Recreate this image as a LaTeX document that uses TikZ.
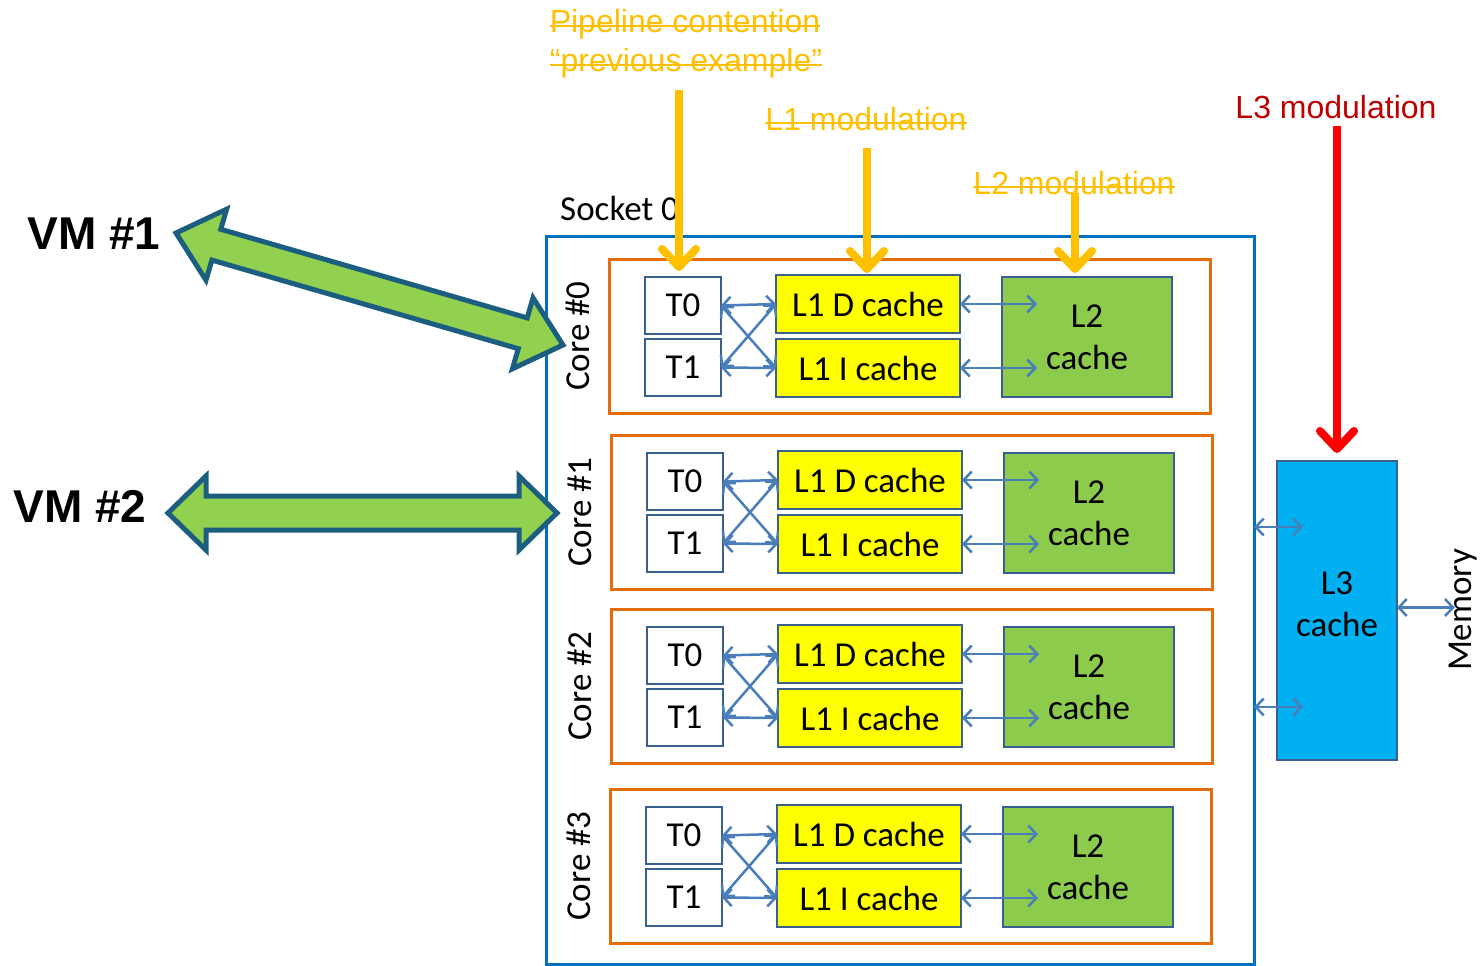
\documentclass[tikz,border=0pt]{standalone}
\usepackage{fontspec}
\newfontfamily\calfont{Carlito}
\newfontfamily\arifont{Liberation Sans}
\usetikzlibrary{arrows.meta,calc}
\definecolor{socketblue}{HTML}{0070C0}
\definecolor{coreorange}{HTML}{E46C0A}
\definecolor{boxblue}{HTML}{3A5F91}
\definecolor{linkblue}{HTML}{4A7EBB}
\definecolor{l1yellow}{HTML}{FFFF00}
\definecolor{l2green}{HTML}{8DCB4C}
\definecolor{l3blue}{HTML}{00B0F0}
\definecolor{modyellow}{HTML}{FFC000}
\definecolor{modred}{HTML}{FF0000}
\definecolor{textred}{HTML}{C00000}
\definecolor{vmfill}{HTML}{92D050}
\definecolor{vmedge}{HTML}{1B5E80}
\begin{document}
\begin{tikzpicture}[x=1pt,y=-1pt,
  cal/.style={font=\calfont\fontsize{35}{42}\selectfont},
  cell/.style={cal,draw=boxblue,line width=2.5pt,inner sep=0pt,outer sep=0pt,anchor=north west,align=center},
  tcell/.style={cell,fill=white,minimum width=76pt,minimum height=57pt},
  l1cell/.style={cell,fill=l1yellow,minimum width=184pt,minimum height=58pt},
  l2cell/.style={cell,fill=l2green,minimum width=170pt,minimum height=120pt},
  corebox/.style={draw=coreorange,line width=3pt,anchor=north west,inner sep=0pt,outer sep=0pt,minimum width=601pt,minimum height=154pt},
  link/.style={linkblue,line width=2.5pt,>={Straight Barb[length=8pt,width=17pt]},<->},
  modarrow/.style={line width=8pt,arrows={-Straight Barb[length=18pt,width=34pt,round]}},
  modlabel/.style={font=\arifont\fontsize{32}{38}\selectfont,inner sep=0pt,anchor=base},
  vmlabel/.style={font=\arifont\bfseries\fontsize{46}{50}\selectfont,inner sep=0pt},
  bigarrow/.style={fill=vmfill,draw=vmedge,line width=5pt,line join=miter},
]
\useasboundingbox (0,0) rectangle (1481,966);

% socket frame
\node[draw=socketblue,line width=3pt,anchor=north west,inner sep=0pt,outer sep=0pt,
      minimum width=708pt,minimum height=728pt] (socket) at (546,236) {};
\node[cal,anchor=base west,inner sep=0pt] (socklbl) at (560,220) {Socket 0};

% four cores, each with two threads, L1 D/I caches and a private L2
\foreach \i/\dx/\dy in {0/0/0,1/2/176,2/2/350,3/1/530}{
  \begin{scope}[shift={(\dx,\dy)}]
    \node[corebox] (core\i) at (609,259) {};
    \node[tcell] (ta\i) at (645,277) {T0};
    \node[tcell] (tb\i) at (645,339) {T1};
    \node[l1cell] (ld\i) at (776,275) {L1 D cache};
    \node[l1cell] (li\i) at (776,339) {L1 I cache};
    \node[l2cell] (lt\i) at (1002,277) {L2\\cache};
    \node[cal,rotate=90,inner sep=0pt] (cl\i) at (578,336) {Core \#\i};
    \draw[link] (ta\i.east) -- (ld\i.west);
    \draw[link] (tb\i.east) -- (li\i.west);
    \draw[link] (ta\i.east) -- (li\i.west);
    \draw[link] (tb\i.east) -- (ld\i.west);
    \draw[link] (ld\i.east) -- ($(lt\i.west |- ld\i.east)+(35,0)$);
    \draw[link] (li\i.east) -- ($(lt\i.west |- li\i.east)+(35,0)$);
  \end{scope}
}

% shared L3 and memory
\node[cell,fill=l3blue,minimum width=120pt,minimum height=299pt] (l3) at (1277,461) {};
\node[cal,align=center,inner sep=0pt] (l3txt) at ([yshift=6pt]l3.center) {L3\\cache};
\path (l3.north west) ++(26,66) coordinate (l3inA) ++(0,180) coordinate (l3inB);
\draw[link] (socket.east |- l3inA) -- (l3inA);
\draw[link] (socket.east |- l3inB) -- (l3inB);
\node[cal,rotate=90,inner sep=0pt] (mem) at (1463,610) {Memory};
\draw[link] ([yshift=3pt]l3.east) -- ([yshift=3pt,xshift=6pt]l3.east -| mem.north);

% modulation labels (struck through where no longer applicable)
\node[modlabel,text=modyellow] (pipeA) at (685,33) {Pipeline contention};
\node[modlabel,text=modyellow] (pipeB) at (686,72) {“previous example”};
\node[modlabel,text=modyellow] (modA) at (866,130) {L1 modulation};
\node[modlabel,text=modyellow] (modB) at (1074,194) {L2 modulation};
\node[modlabel,text=textred] (modC) at (1336,118) {L3 modulation};
\foreach \n in {pipeA,pipeB,modA,modB}
  \draw[modyellow,line width=2pt] ([yshift=7pt]\n.base west) -- ([yshift=7pt]\n.base east);

% modulation arrows
\coordinate (pipeTail) at (679,90);
\coordinate (modATail) at (867,148);
\coordinate (modBTail) at (1075,193);
\coordinate (modCTail) at (1337,126);
\draw[modarrow,modyellow] (pipeTail) -- ([yshift=6pt]pipeTail |- ta0.north);
\draw[modarrow,modyellow] (modATail) -- ([yshift=2pt]modATail |- ld0.north);
\draw[modarrow,modyellow] (modBTail) -- ([yshift=4pt]modBTail |- lt0.north);
\draw[modarrow,modred] (modCTail) -- ([yshift=8pt]modCTail |- l3.north);

% virtual machines
\node[vmlabel] (vm1) at (94,234) {VM \#1};
\node[vmlabel] (vm2) at (80,506) {VM \#2};
\draw[bigarrow] (176,233) -- (226.6,209.2) -- (220.8,229.3) -- (527.2,317.9) -- (533.0,297.8)
  -- (563,345) -- (512.4,368.8) -- (518.3,348.7) -- (211.9,260.1) -- (206.0,280.2) -- cycle;
\draw[bigarrow] (168,513) -- (206,476) -- (206,496) -- (519,496) -- (519,476) -- (557,513)
  -- (519,550) -- (519,530) -- (206,530) -- (206,550) -- cycle;
\end{tikzpicture}
\end{document}
